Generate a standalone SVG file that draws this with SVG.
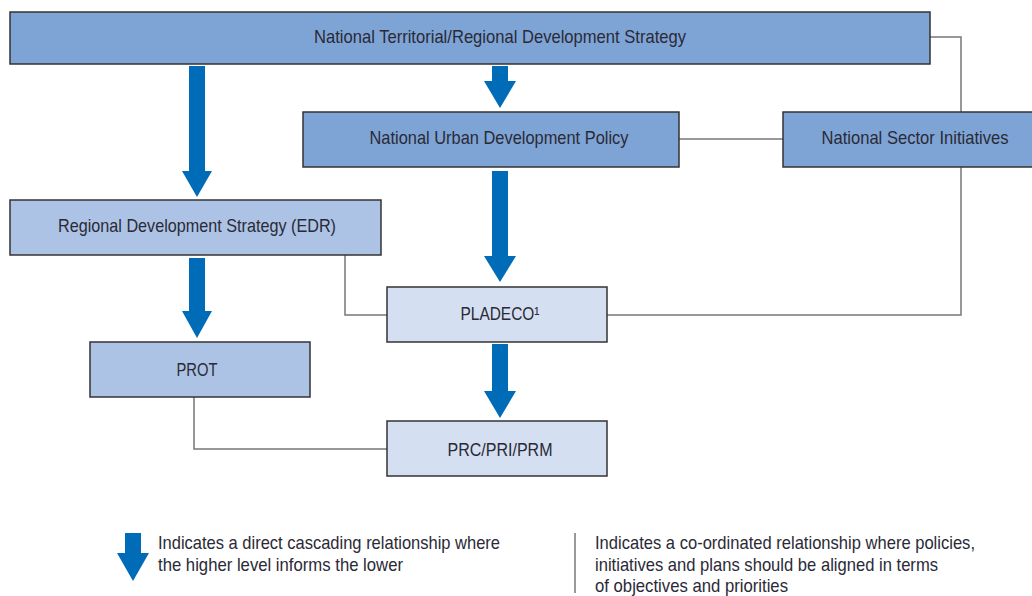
<svg xmlns="http://www.w3.org/2000/svg" width="1032" height="596" viewBox="0 0 1032 596">
<style>
.box{stroke:#333;stroke-width:1.5}
.edge{fill:none;stroke:#333;stroke-width:1.5}
.l1{fill:#7ea4d6}
.l2{fill:#adc3e5}
.l3{fill:#d4e0f1}
.t{font-family:"Liberation Sans",Arial,sans-serif;font-size:19px;fill:#2a2a36}
.c{text-anchor:middle}
.cascade{fill:#006cb7}
.conn{fill:none;stroke:#777;stroke-width:1.5}
</style>
<rect width="1032" height="596" fill="#fff"/>
<g id="connectors">
<path class="conn" d="M930 37H961V112"/>
<path class="conn" d="M679 139H783"/>
<path class="conn" d="M961 167V315H607"/>
<path class="conn" d="M345 255V315H387"/>
<path class="conn" d="M194 397V449H387"/>
<path class="cascade" d="M189 66H205V171H212L197 197L182 171H189Z"/>
<path class="cascade" d="M492 66H508V81H516L500 108L484 81H492Z"/>
<path class="cascade" d="M492 171H508V256H516L500 282L484 256H492Z"/>
<path class="cascade" d="M189 258H205V311H212L197 338L182 311H189Z"/>
<path class="cascade" d="M492 344H508V391H516L500 418L484 391H492Z"/>
</g>
<g id="n-ntrds">
<rect class="box l1" x="10" y="12" width="920" height="52"/>
<text class="t c" x="500" y="43" textLength="372" lengthAdjust="spacingAndGlyphs">National Territorial/Regional Development Strategy</text>
</g>
<g id="n-nudp">
<rect class="box l1" x="303" y="112" width="376" height="55"/>
<text class="t c" x="499" y="144" textLength="259" lengthAdjust="spacingAndGlyphs">National Urban Development Policy</text>
</g>
<g id="n-nsi">
<rect class="l1" x="783" y="112" width="249" height="55"/>
<path class="edge" d="M1032 112H783V167H1032"/>
<text class="t c" x="915" y="144" textLength="187" lengthAdjust="spacingAndGlyphs">National Sector Initiatives</text>
</g>
<g id="n-edr">
<rect class="box l2" x="10" y="200" width="371" height="55"/>
<text class="t c" x="197" y="232" textLength="278" lengthAdjust="spacingAndGlyphs">Regional Development Strategy (EDR)</text>
</g>
<g id="n-pladeco">
<rect class="box l3" x="387" y="287" width="220" height="55"/>
<text class="t c" x="500" y="320" textLength="79" lengthAdjust="spacingAndGlyphs">PLADECO¹</text>
</g>
<g id="n-prot">
<rect class="box l2" x="90" y="342" width="220" height="55"/>
<text class="t c" x="197" y="376" textLength="41" lengthAdjust="spacingAndGlyphs">PROT</text>
</g>
<g id="n-prc">
<rect class="box l3" x="387" y="421" width="220" height="55"/>
<text class="t c" x="500" y="456" textLength="105" lengthAdjust="spacingAndGlyphs">PRC/PRI/PRM</text>
</g>
<g id="legend">
<path class="cascade" d="M125 533H141V553H149L133 581L117 553H125Z"/>
<text class="t" x="158" y="549" textLength="342" lengthAdjust="spacingAndGlyphs">Indicates a direct cascading relationship where</text>
<text class="t" x="158" y="571" textLength="245" lengthAdjust="spacingAndGlyphs">the higher level informs the lower</text>
<line x1="575" y1="533" x2="575" y2="593" stroke="#777" stroke-width="1.5"/>
<text class="t" x="595" y="549" textLength="380" lengthAdjust="spacingAndGlyphs">Indicates a co-ordinated relationship where policies,</text>
<text class="t" x="595" y="571" textLength="343" lengthAdjust="spacingAndGlyphs">initiatives and plans should be aligned in terms</text>
<text class="t" x="595" y="592" textLength="193" lengthAdjust="spacingAndGlyphs">of objectives and priorities</text>
</g>
</svg>
